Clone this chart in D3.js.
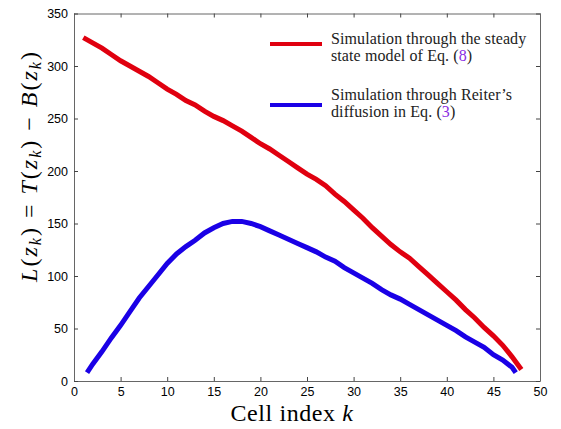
<!DOCTYPE html>
<html>
<head>
<meta charset="utf-8">
<script src="https://cdn.jsdelivr.net/npm/d3@7"></script>
<style>
  body { margin: 0; background: #fff; }
  .tick text { font-family: "Liberation Sans", Arial, sans-serif; font-size: 12.5px; fill: #000; }
  .serif { font-family: "Liberation Serif", "DejaVu Serif", serif; }
</style>
</head>
<body>
<div id="chart"></div>
<script>
// cell index k and the two simulated curves
var steady_k = [1,2,3,4,5,6,7,8,9,10,11,12,13,14,15,16,17,18,19,20,21,22,23,24,25,26,27,28,29,30,31,32,33,34,35,36,37,38,39,40,41,42,43,44,45,46,47,48];
var steady_L = [327,322,317,311,305,300,295,290,284,278,273,267,263,257,252,248,243,238,232,226,221,215,209,203,197,192,186,178,171,163,155,146,138,130,123,117,109,101,93,85,77,68,60,51,43,34,23,11];

var reiter_k = [1.4,2,3,4,5,6,7,8,9,10,11,12,13,14,15,16,17,18,19,20,21,22,23,24,25,26,27,28,29,30,31,32,33,34,35,36,37,38,39,40,41,42,43,44,45,46,47,47.4];
var reiter_L = [8,16,28,41,53,66,79,90,101,112,121,128,134,141,146,150,152,152,150,147,143,139,135,131,127,123,118,114,108,103,98,93,87,82,78,73,68,63,58,53,48,42,37,32,25,20,13,8];

var x_ticks = [0,5,10,15,20,25,30,35,40,45,50];
var y_ticks = [0,50,100,150,200,250,300,350];

var legend_labels = [
  { color: '#e0000f', lines: [['Simulation through the steady'], ['state model of Eq. (', '8', ')']] },
  { color: '#1a00e6', lines: [['Simulation through Reiter\u2019s'], ['diffusion in Eq. (', '3', ')']] }
];

var width = 561, height = 429;
var plot = { left: 74, right: 540, top: 13.5, bottom: 381 };

var svg = d3.select('#chart')
    .append('svg')
    .attr('width', width)
    .attr('height', height);

var scale_x = d3.scaleLinear().domain([0, 50]).range([plot.left, plot.right]);
var scale_y = d3.scaleLinear().domain([0, 350]).range([plot.bottom, plot.top]);

// box with inward ticks on all sides (matlab style)
function styleAxis(g) {
  g.select('.domain').attr('stroke', '#666').attr('stroke-width', 1);
  g.selectAll('.tick line').attr('stroke', '#444');
}

svg.append('g')
   .attr('transform', 'translate(0,' + plot.bottom + ')')
   .call(d3.axisBottom(scale_x).tickValues(x_ticks).tickSizeInner(-4).tickSizeOuter(0).tickPadding(6))
   .call(styleAxis);
svg.append('g')
   .attr('transform', 'translate(0,' + plot.top + ')')
   .call(d3.axisTop(scale_x).tickValues(x_ticks).tickSizeInner(-4).tickSizeOuter(0).tickFormat(''))
   .call(styleAxis);
svg.append('g')
   .attr('transform', 'translate(' + plot.left + ',0)')
   .call(d3.axisLeft(scale_y).tickValues(y_ticks).tickSizeInner(-4).tickSizeOuter(0).tickPadding(6))
   .call(styleAxis);
svg.append('g')
   .attr('transform', 'translate(' + plot.right + ',0)')
   .call(d3.axisRight(scale_y).tickValues(y_ticks).tickSizeInner(-4).tickSizeOuter(0).tickFormat(''))
   .call(styleAxis);

var line = d3.line()
    .x(function(d) { return scale_x(d[0]); })
    .y(function(d) { return scale_y(d[1]); });

svg.append('path')
   .datum(d3.zip(steady_k, steady_L))
   .attr('d', line)
   .attr('fill', 'none')
   .attr('stroke', legend_labels[0].color)
   .attr('stroke-width', 5);

svg.append('path')
   .datum(d3.zip(reiter_k, reiter_L))
   .attr('d', line)
   .attr('fill', 'none')
   .attr('stroke', legend_labels[1].color)
   .attr('stroke-width', 5);

// legend
legend_labels.forEach(function(item, i) {
  var y0 = 44 + i * 61;
  svg.append('line')
     .attr('x1', 270).attr('x2', 322)
     .attr('y1', y0).attr('y2', y0)
     .attr('stroke', item.color).attr('stroke-width', 4);
  item.lines.forEach(function(parts, j) {
    var t = svg.append('text')
       .attr('class', 'serif')
       .attr('x', 331)
       .attr('y', 44 + i * 56 + j * 17)
       .attr('font-size', 16)
       .attr('letter-spacing', 0.1)
       .attr('fill', '#222');
    t.append('tspan').text(parts[0]);
    if (parts.length > 1) {
      t.append('tspan').attr('fill', '#8a2be2').text(parts[1]);
      t.append('tspan').text(parts[2]);
    }
  });
});

// x label
var xl = svg.append('text')
   .attr('class', 'serif')
   .attr('x', 292).attr('y', 421)
   .attr('text-anchor', 'middle')
   .attr('font-size', 24)
   .attr('letter-spacing', 0.6);
xl.append('tspan').text('Cell index ');
xl.append('tspan').attr('font-style', 'italic').text('k');

// y label
var yl = svg.append('text')
   .attr('class', 'serif')
   .attr('transform', 'translate(37,166) rotate(-90)')
   .attr('text-anchor', 'middle')
   .attr('font-size', 24)
   .attr('letter-spacing', 2);
function zk(t) {
  t.append('tspan').text('(');
  t.append('tspan').attr('font-style', 'italic').text('z');
  t.append('tspan').attr('font-style', 'italic').attr('font-size', 16).attr('dy', 4).text('k');
  t.append('tspan').attr('dy', -4).text(')');
}
yl.append('tspan').attr('font-style', 'italic').text('L');
zk(yl);
yl.append('tspan').text(' = ');
yl.append('tspan').attr('font-style', 'italic').text('T');
zk(yl);
yl.append('tspan').text(' \u2212 ');
yl.append('tspan').attr('font-style', 'italic').text('B');
zk(yl);
</script>
</body>
</html>
